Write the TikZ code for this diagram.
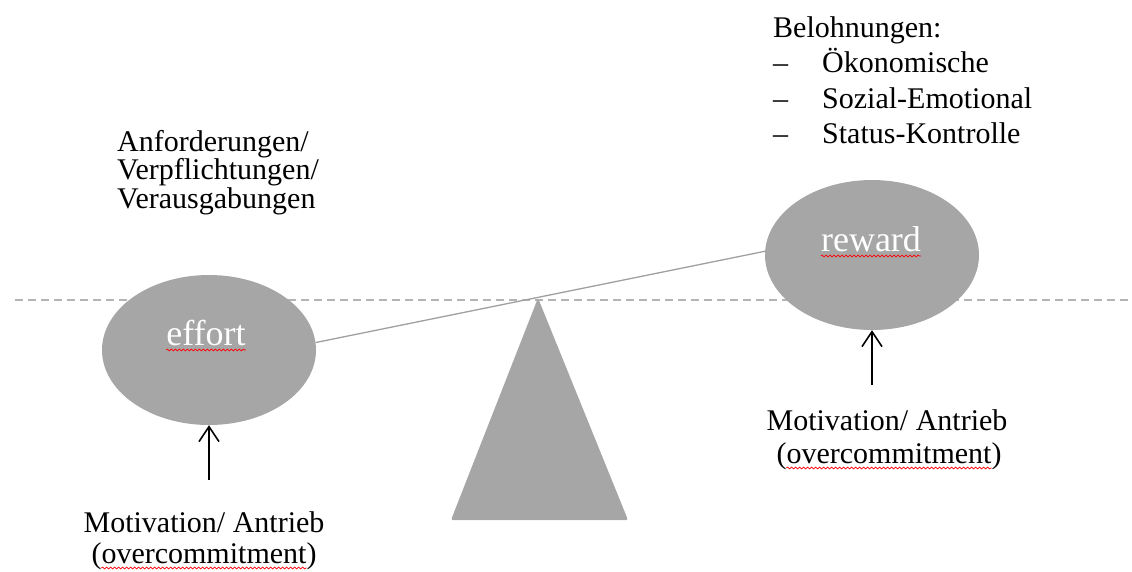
\documentclass[tikz,border=0pt]{standalone}
\usepackage{fontspec}
\setmainfont{Liberation Serif}
\usetikzlibrary{shapes.geometric,arrows.meta,decorations.pathmorphing}
\definecolor{blobgray}{HTML}{A6A6A6}
\definecolor{dashgray}{HTML}{B4B4B4}
\definecolor{levergray}{HTML}{A0A0A0}
\begin{document}
\begin{tikzpicture}[x=1pt,y=-1pt,
  txt/.style={font=\fontsize{30}{34}\selectfont, inner sep=0pt, anchor=base west, text=black},
  ctxt/.style={txt, anchor=base},
  blob/.style={ellipse, fill=blobgray, minimum width=214pt, minimum height=150pt, inner sep=0pt},
  blobtext/.style={font=\fontsize{36}{40}\selectfont, inner sep=0pt, anchor=base, text=white},
  push/.style={-{Straight Barb[length=15pt,width=20pt]}, line width=1.6pt, black},
  squig/.style={red, line width=0.7pt, decorate, decoration={snake, segment length=4pt, amplitude=0.9pt}}
]
\useasboundingbox (0,0) rectangle (1132,571);
% horizontal reference
\coordinate (hl) at (15,300);
\coordinate (hr) at (1132,300);
\draw[dashgray, line width=1.5pt, dash pattern=on 8pt off 5pt] (hl) -- (hr);
% fulcrum
\coordinate (apex) at (538,298);
\coordinate (bl) at (451,520);
\coordinate (br) at (628,520);
\fill[blobgray, rounded corners=2pt] (apex) -- (br) -- (bl) -- cycle;
% weights
\node[blob] (effort) at (209,350) {};
\node[blob] (reward) at (872,255) {};
\draw[levergray, line width=1.3pt] (effort.4) -- (reward.178);
\node[blobtext] (efforttxt) at (206,345) {effort};
\node[blobtext] (rewardtxt) at (871,251) {reward};
\draw[squig] ([yshift=-5pt]efforttxt.base west) -- ([yshift=-5pt]efforttxt.base east);
\draw[squig] ([yshift=-5pt]rewardtxt.base west) -- ([yshift=-5pt]rewardtxt.base east);
% left texts
\node[txt, font=\fontsize{30}{26.5}\selectfont, align=left] (anf) at (117,208)
  {Anforderungen/\\Verpflichtungen/\\Verausgabungen};
% rewards list
\node[txt] (bel) at (773,37) {Belohnungen:};
\node[txt] (d1) at (773,72) {–};
\node[txt] (i1) at (822,72) {Ökonomische};
\node[txt] (d2) at (773,108) {–};
\node[txt] (i2) at (822,108) {Sozial-Emotional};
\node[txt] (d3) at (773,143) {–};
\node[txt] (i3) at (822,143) {Status-Kontrolle};
% motivation left
\node[ctxt] (motl) at (204,532) {Motivation/ Antrieb};
\node[ctxt] (ocl) at (204,563) {(overcommitment)};
\draw[squig] ([xshift=10pt,yshift=-5pt]ocl.base west) -- ([xshift=-10pt,yshift=-5pt]ocl.base east);
\coordinate (al) at ([yshift=-55pt]effort.south);
\draw[push] (al) -- (effort.south);
% motivation right
\node[ctxt] (motr) at (887,430) {Motivation/ Antrieb};
\node[ctxt] (ocr) at (889,463) {(overcommitment)};
\draw[squig] ([xshift=10pt,yshift=-5pt]ocr.base west) -- ([xshift=-10pt,yshift=-5pt]ocr.base east);
\coordinate (ar) at ([yshift=-55pt]reward.south);
\draw[push] (ar) -- (reward.south);
\end{tikzpicture}
\end{document}
